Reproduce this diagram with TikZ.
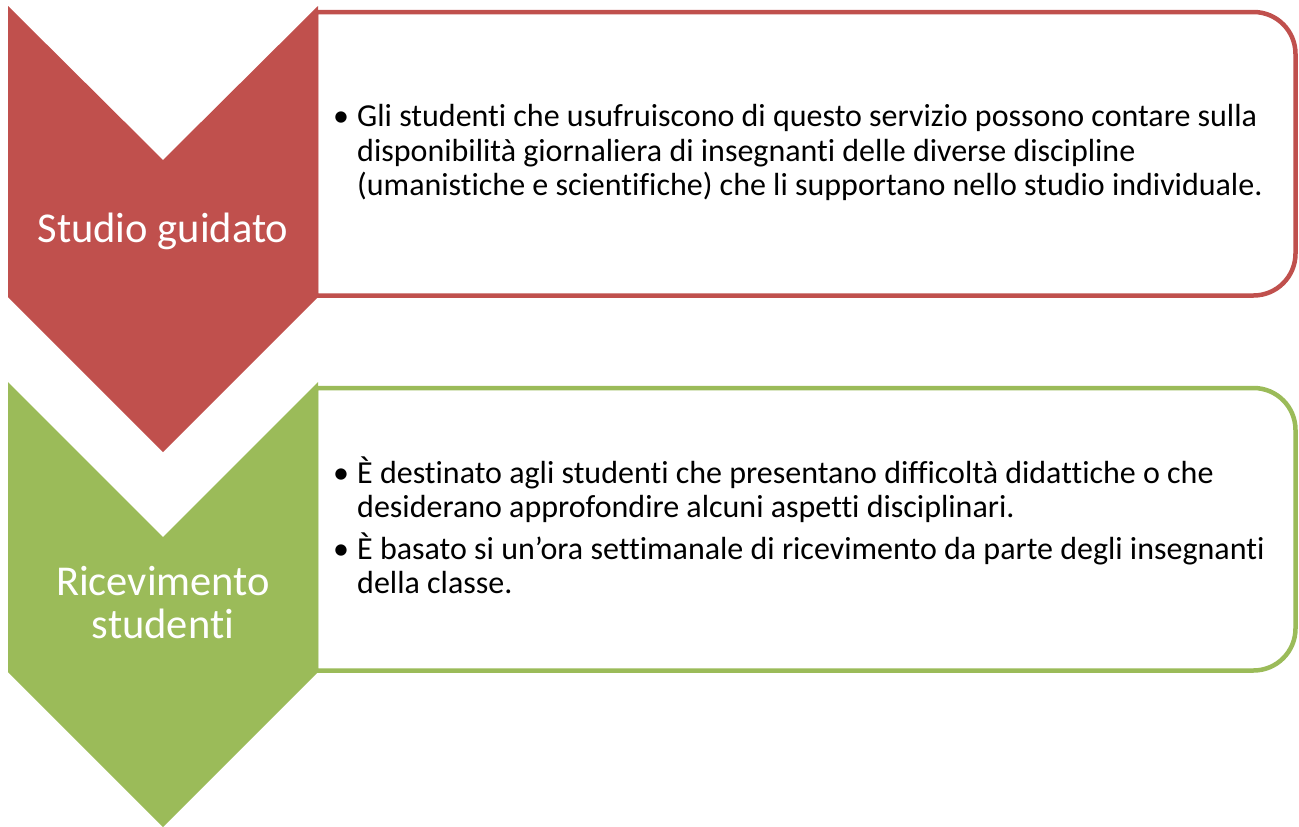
\documentclass[tikz,border=0pt]{standalone}
\usepackage{fontspec}
\setmainfont{Carlito}[Ligatures={NoCommon,NoContextual,NoDiscretionary,NoHistoric},Contextuals={NoAlternate}]
\definecolor{accred}{HTML}{C0504D}
\definecolor{accgreen}{HTML}{9BBB59}
\tikzset{
  chev/.style={draw=none},
  infobox/.style={fill=white, line width=4.5pt, line join=round},
  label/.style={text=white, inner sep=0pt, align=center, font=\fontsize{42.5}{47}\selectfont},
  body/.style={inner sep=0pt, text=black, font=\fontsize{32}{34.5}\selectfont}
}
\begin{document}
\begin{tikzpicture}[x=1pt,y=-1pt]
\useasboundingbox (0,0) rectangle (1299,827);
% boxes
\draw[infobox, draw=accred] (316,150) -- (316,12) [rounded corners=42pt] -- (1295.5,12) -- (1295.5,295.5) [sharp corners] -- (316,295.5) -- cycle;
\draw[infobox, draw=accgreen] (316,530) -- (316,388) [rounded corners=42pt] -- (1295.5,388) -- (1295.5,670.5) [sharp corners] -- (316,670.5) -- cycle;
% chevrons
\fill[chev, accred] (8,6) -- (163,160) -- (318,6) -- (318,297) -- (163,452) -- (8,297) -- cycle;
\fill[chev, accgreen] (8,382) -- (163,537) -- (318,382) -- (318,672) -- (163,827) -- (8,672) -- cycle;
% labels
\node[label, anchor=base] (l1) at (163,242) {Studio guidato};
\node[label, anchor=base] (l2) at (163,595) {\begin{tabular}[t]{@{}c@{}}Ricevimento\\[-4pt] studenti\end{tabular}};
% body texts
\node[body, anchor=base west] (t1) at (333,126.5) {\begin{tabular}[t]{@{}l@{}}%
\makebox[24pt][l]{•}Gli studenti che usufruiscono di questo servizio possono contare sulla\\
\hspace*{24pt}disponibilità giornaliera di insegnanti delle diverse discipline\\
\hspace*{24pt}(umanistiche e scientifiche) che li supportano nello studio individuale.\end{tabular}};
\node[body, anchor=base west] (t2) at (333,483) {\begin{tabular}[t]{@{}l@{}}%
\makebox[24pt][l]{•}È destinato agli studenti che presentano difficoltà didattiche o che\\
\hspace*{24pt}desiderano approfondire alcuni aspetti disciplinari.\\[4.5pt]
\makebox[24pt][l]{•}È basato si un’ora settimanale di ricevimento da parte degli insegnanti\\
\hspace*{24pt}della classe.\end{tabular}};
\end{tikzpicture}
\end{document}
